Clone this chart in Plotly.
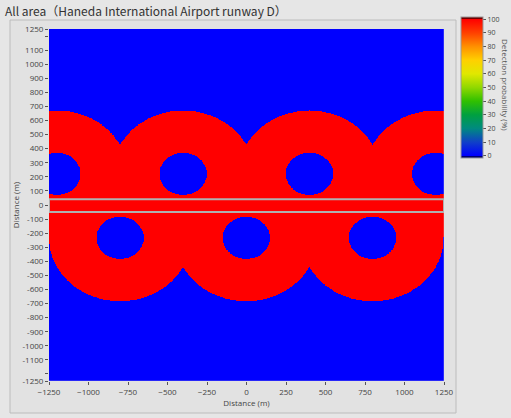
import numpy as np
import plotly.graph_objects as go

# Sensor layout along runway D (metres, runway centre = origin)
sensor_x_north = [-1200, -400, 400, 1200]
sensor_y_north = [220, 220, 220, 220]
sensor_x_south = [-800, 0, 800]
sensor_y_south = [-235, -235, -235]
inner_radius = 150      # blind zone radius around each sensor (m)
outer_radius = 450      # maximum detection range (m)

runway_y = [-50, 40]    # runway strip edges (m)
extent = [-1250, 1250]
grid_step = 2.5

x_ticks = [-1250, -1000, -750, -500, -250, 0, 250, 500, 750, 1000, 1250]
y_ticks = [-1250] + list(range(-1200, 1201, 100)) + [1250]
y_ticktext = ["" if abs(v) == 1200 else str(v) for v in y_ticks]
cb_ticks = [0, 10, 20, 30, 40, 50, 60, 70, 80, 90, 100]

# Detection probability grid: 100 % inside any sensor's annular coverage
gx = np.arange(extent[0], extent[1] + grid_step, grid_step)
gy = np.arange(extent[0], extent[1] + grid_step, grid_step)
XX, YY = np.meshgrid(gx, gy)
covered = np.zeros_like(XX, dtype=bool)
for sx, sy in zip(sensor_x_north + sensor_x_south, sensor_y_north + sensor_y_south):
    d = np.hypot(XX - sx, YY - sy)
    covered |= (d >= inner_radius) & (d <= outer_radius)
prob = np.where(covered, 100, 0).astype(np.uint8)

# Jet-like scale with dark caps at both ends of the colour bar
zmin, zmax = -1.6, 101.6
stops = [(0, "#0000ff"), (10, "#1040c8"), (20, "#008a80"), (30, "#00a040"),
         (40, "#30c000"), (50, "#90d800"), (60, "#e0e800"), (70, "#ffd000"),
         (80, "#ff9000"), (90, "#ff4000"), (100, "#ff0000")]
def frac(v):
    return (v - zmin) / (zmax - zmin)
colorscale = [[0.0, "#000070"], [frac(-0.5), "#000070"]]
colorscale += [[frac(v), c] for v, c in stops]
colorscale += [[frac(100.5), "#700000"], [1.0, "#700000"]]

W, H = 511, 418
L, R, T, B = 49, 67, 29, 37
pw, ph = W - L - R, H - T - B

fig = go.Figure(go.Heatmap(
    x=gx, y=gy, z=prob, zmin=zmin, zmax=zmax, colorscale=colorscale,
    zsmooth=False, hoverinfo="skip",
    colorbar=dict(
        x=(461 - L) / pw, xanchor="left", xpad=0,
        y=(H - B - 17) / ph, yanchor="top", ypad=0,
        len=141, lenmode="pixels", thickness=22,
        tickvals=cb_ticks, ticks="outside", ticklen=3, tickcolor="#555",
        tickfont=dict(size=7, color="#444", family="Open Sans"),
        outlinewidth=1, outlinecolor="#999",
    ),
))

# Outer panel frame
fig.add_shape(type="rect", xref="paper", yref="paper",
              x0=(10 - L) / pw, x1=(456 - L) / pw,
              y0=(H - B - 413) / ph, y1=(H - B - 20) / ph,
              line=dict(color="#bcbcbc", width=1), fillcolor="#e2e2e2", layer="below")

# Runway strip
fig.add_shape(type="rect", xref="x", yref="y",
              x0=extent[0], x1=extent[1], y0=runway_y[0], y1=runway_y[1],
              line=dict(color="#b0b0b0", width=2))

fig.add_annotation(text="Detection probability (%)", xref="paper", yref="paper",
                   x=(505 - L) / pw, y=(H - B - 85) / ph, showarrow=False,
                   xanchor="center", yanchor="middle",
                   textangle=90, font=dict(size=8, color="#555", family="Open Sans"))

fig.update_layout(
    width=W, height=H, margin=dict(l=L, r=R, t=T, b=B, autoexpand=False),
    paper_bgcolor="#e6e6e6", plot_bgcolor="#e2e2e2",
    title=dict(text="All area（Haneda International Airport runway D）",
               x=5 / W, xanchor="left", y=1 - 12 / H, yanchor="middle",
               font=dict(size=12, color="#333", family="Noto Sans CJK JP")),
    xaxis=dict(range=extent, tickvals=x_ticks, ticks="outside", ticklen=3,
               tickcolor="#555", showgrid=False, zeroline=False,
               tickfont=dict(size=8, color="#444", family="Open Sans"),
               title=dict(text="Distance (m)", standoff=4,
                          font=dict(size=8, color="#444", family="Open Sans"))),
    yaxis=dict(range=extent, tickvals=y_ticks, ticktext=y_ticktext, ticks="outside",
               ticklen=3, tickcolor="#555", showgrid=False, zeroline=False,
               tickfont=dict(size=8, color="#444", family="Open Sans"),
               title=dict(text="Distance (m)", standoff=1,
                          font=dict(size=8, color="#444", family="Open Sans"))),
)

fig.write_html("out.html")
